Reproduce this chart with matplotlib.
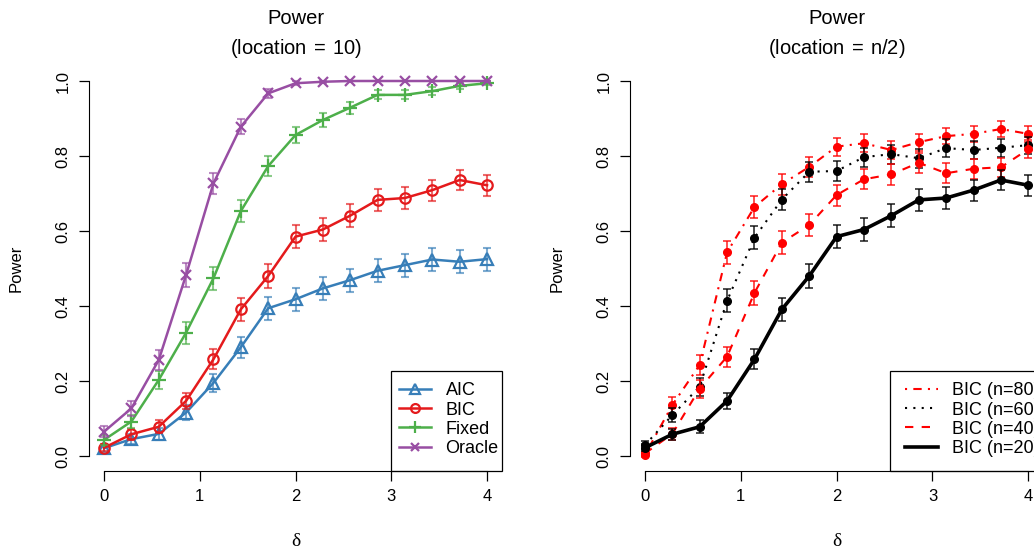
import matplotlib
matplotlib.use('Agg')
import matplotlib.pyplot as plt
from matplotlib.lines import Line2D
from matplotlib.patches import Rectangle
import numpy as np

plt.rcParams['font.family'] = ['Liberation Sans', 'DejaVu Sans']
plt.rcParams['mathtext.fontset'] = 'custom'
plt.rcParams['mathtext.rm'] = 'Liberation Sans'

# shift parameter delta (15 grid points from 0 to 4)
delta = [0, 0.2857, 0.5714, 0.8571, 1.1429, 1.4286, 1.7143, 2.0,
         2.2857, 2.5714, 2.8571, 3.1429, 3.4286, 3.7143, 4.0]

# left panel: location = 10
aic = [0.021, 0.045, 0.059, 0.116, 0.195, 0.290, 0.394, 0.418, 0.447, 0.469, 0.494, 0.509, 0.524, 0.518, 0.525]
aic_err = [0.009, 0.013, 0.015, 0.020, 0.025, 0.028, 0.030, 0.031, 0.031, 0.031, 0.031, 0.031, 0.031, 0.031, 0.031]
bic = [0.022, 0.058, 0.078, 0.147, 0.258, 0.391, 0.480, 0.585, 0.604, 0.641, 0.683, 0.688, 0.709, 0.736, 0.722]
bic_err = [0.009, 0.015, 0.017, 0.022, 0.027, 0.030, 0.031, 0.031, 0.030, 0.030, 0.029, 0.029, 0.028, 0.027, 0.028]
fixed = [0.043, 0.092, 0.203, 0.329, 0.474, 0.653, 0.773, 0.856, 0.896, 0.929, 0.963, 0.963, 0.973, 0.987, 0.994]
fixed_err = [0.013, 0.018, 0.025, 0.029, 0.031, 0.030, 0.026, 0.022, 0.019, 0.016, 0.012, 0.012, 0.010, 0.007, 0.005]
oracle = [0.065, 0.127, 0.256, 0.483, 0.727, 0.878, 0.967, 0.994, 0.998, 1.0, 1.0, 1.0, 1.0, 1.0, 1.0]
oracle_err = [0.015, 0.021, 0.027, 0.031, 0.028, 0.020, 0.011, 0.005, 0.003, 0.0, 0.0, 0.0, 0.0, 0.0, 0.0]

# right panel: location = n/2, BIC for several sample sizes
bic80 = [0.003, 0.136, 0.243, 0.543, 0.664, 0.725, 0.771, 0.825, 0.834, 0.816, 0.837, 0.853, 0.859, 0.872, 0.859]
bic80_err = [0.005, 0.021, 0.027, 0.031, 0.030, 0.028, 0.027, 0.024, 0.024, 0.025, 0.023, 0.022, 0.022, 0.021, 0.022]
bic60 = [0.029, 0.109, 0.185, 0.414, 0.582, 0.684, 0.758, 0.760, 0.797, 0.805, 0.794, 0.821, 0.816, 0.822, 0.829]
bic60_err = [0.010, 0.019, 0.024, 0.031, 0.031, 0.029, 0.027, 0.027, 0.025, 0.025, 0.025, 0.024, 0.024, 0.024, 0.023]
bic40 = [0.007, 0.059, 0.180, 0.265, 0.435, 0.569, 0.616, 0.696, 0.738, 0.751, 0.782, 0.754, 0.766, 0.770, 0.818]
bic40_err = [0.005, 0.015, 0.024, 0.027, 0.031, 0.031, 0.030, 0.028, 0.027, 0.027, 0.026, 0.027, 0.026, 0.026, 0.024]
bic20 = bic
bic20_err = bic_err

fig = plt.figure(figsize=(10.34, 5.5), dpi=100)
ax1 = fig.add_axes([0.0858, 0.1436, 0.4000, 0.7364])
ax2 = fig.add_axes([0.6089, 0.1436, 0.4004, 0.7364])

left_series = [
    (aic, aic_err, '#377EB8', '^', 9, 'AIC'),
    (bic, bic_err, '#E41A1C', 'o', 7.5, 'BIC'),
    (fixed, fixed_err, '#4DAF4A', '+', 10, 'Fixed'),
    (oracle, oracle_err, '#984EA3', 'x', 7.5, 'Oracle'),
]
left_handles = []
for y, e, col, mk, ms, lab in left_series:
    ax1.errorbar(delta, y, yerr=e, fmt='none', ecolor=col, alpha=0.65,
                 elinewidth=1.5, capsize=3, capthick=1.5)
    ax1.plot(delta, y, color=col, lw=1.8, marker=mk, markersize=ms,
             mfc='none', mec=col, mew=1.6)
    left_handles.append(Line2D([], [], color=col, lw=1.8, marker=mk, markersize=ms * 0.85,
                               mfc='none', mec=col, mew=1.6, label=lab))

right_series = [
    (bic80, bic80_err, 'red', (0, (1, 3, 4, 3)), 1.5, 'BIC (n=80)'),
    (bic60, bic60_err, 'black', (0, (1, 3)), 1.5, 'BIC (n=60)'),
    (bic40, bic40_err, 'red', (0, (4, 4)), 1.5, 'BIC (n=40)'),
    (bic20, bic20_err, 'black', '-', 2.6, 'BIC (n=20)'),
]
right_handles = []
for y, e, col, ls, lw, lab in right_series:
    ax2.errorbar(delta, y, yerr=e, fmt='none', ecolor=col, alpha=0.75,
                 elinewidth=1.3, capsize=3, capthick=1.3)
    ax2.plot(delta, y, color=col, lw=lw, ls=ls, marker='o', markersize=5.5,
             mfc=col, mec=col)
    right_handles.append(Line2D([], [], color=col, lw=lw, ls=ls, label=lab))

legends = []
for ax, sub, handles, lpad in [(ax1, r'$(\mathrm{location}\,=\,10)$', left_handles, 4),
                                (ax2, r'$(\mathrm{location}\,=\,\mathrm{n}/2)$', right_handles, 12)]:
    ax.set_xlim(-0.16, 4.16)
    ax.set_ylim(-0.04, 1.04)
    for s in ['top', 'right']:
        ax.spines[s].set_visible(False)
    ax.spines['left'].set_bounds(0, 1)
    ax.spines['bottom'].set_bounds(0, 4)
    ax.set_xticks([0, 1, 2, 3, 4])
    ax.set_yticks([0, 0.2, 0.4, 0.6, 0.8, 1.0])
    ax.set_yticklabels(['0.0', '0.2', '0.4', '0.6', '0.8', '1.0'], rotation=90, va='center')
    ax.tick_params(direction='out', length=7, width=0.9, labelsize=12, pad=6)
    ax.set_ylabel('Power', fontsize=12, labelpad=23)
    ax.text(0.5, 1.1185, 'Power', transform=ax.transAxes, ha='center', va='center', fontsize=14.5)
    ax.text(0.5, 1.044, sub, transform=ax.transAxes, ha='center', va='center', fontsize=14.5)
    ax.text(0.5, -0.175, '\u03b4', transform=ax.transAxes, ha='center', va='center',
            fontsize=14, family='Liberation Serif')
    leg = ax.legend(handles=handles, loc='lower right', bbox_to_anchor=(1.0, 0.026),
                    frameon=False, fontsize=13, handlelength=1.8, handletextpad=0.8,
                    labelspacing=0.12, borderpad=0.2, borderaxespad=0)
    legends.append((ax, leg, lpad))

# R-style legend box: flush with bottom-right of the plot region
fig.canvas.draw()
for ax, leg, lpad in legends:
    bb = leg.get_window_extent()
    ab = ax.get_window_extent()
    x0, y0 = bb.x0 - lpad, ab.y0
    x1, y1 = ab.x1, bb.y1 + 8
    inv = fig.transFigure.inverted()
    (fx0, fy0), (fx1, fy1) = inv.transform([(x0, y0), (x1, y1)])
    fig.patches.append(Rectangle((fx0, fy0), fx1 - fx0, fy1 - fy0, transform=fig.transFigure,
                                 fill=False, edgecolor='black', lw=0.9))

fig.savefig('out.png', dpi=100)
